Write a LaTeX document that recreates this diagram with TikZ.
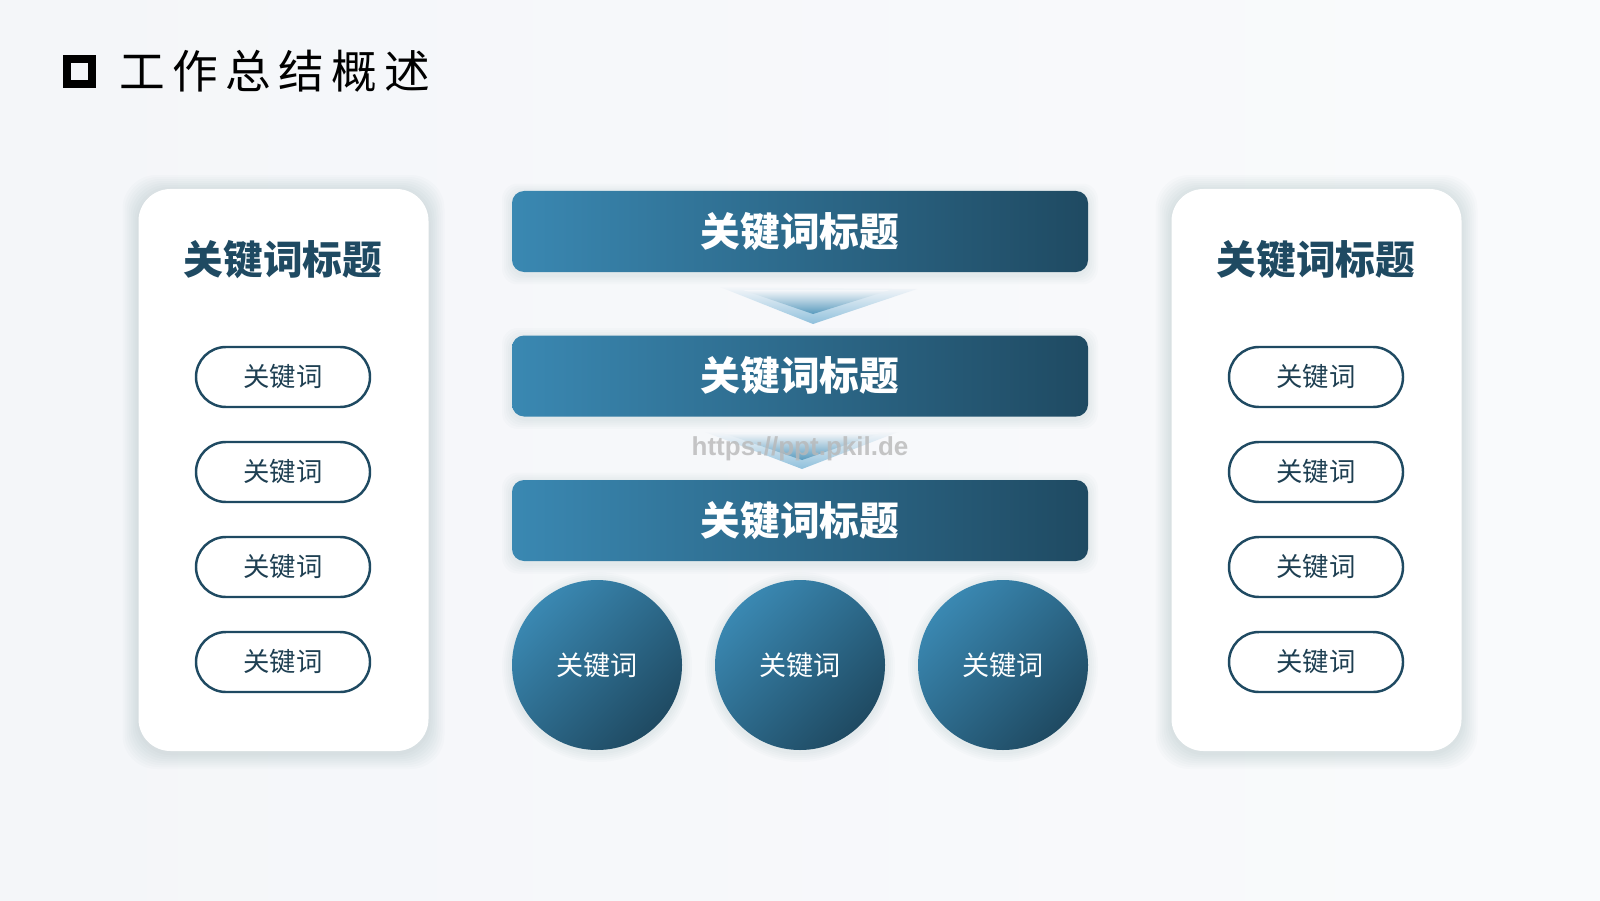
\documentclass[tikz,border=0pt]{standalone}
\usepackage{fontspec}
\setmainfont{Noto Sans CJK SC}
\newfontfamily\urlfont{Liberation Sans}
\definecolor{navy}{HTML}{1F4A62}
\definecolor{steel}{HTML}{3A88B2}
\definecolor{ink}{HTML}{1E3F52}
\definecolor{paper}{HTML}{F4F6F9}
\definecolor{haze}{HTML}{8FC0DC}

\tikzset{
  card/.style={fill=white, rounded corners=0.32cm, minimum width=2.9cm,
    minimum height=5.62cm, inner sep=0pt},
  cardtitle/.style={text=navy, font=\fontsize{11.3}{13}\selectfont\bfseries},
  pill/.style={draw=navy, line width=0.7pt, rounded corners=0.3cm,
    minimum width=1.74cm, minimum height=0.6cm, text=ink,
    font=\fontsize{7.5}{9}\selectfont},
  bar/.style={rounded corners=0.12cm, minimum width=5.76cm,
    minimum height=0.81cm, left color=steel, right color=navy,
    text=white, font=\fontsize{11.3}{13}\selectfont\bfseries},
  ball/.style={circle, minimum size=1.7cm, left color=steel,
    right color=navy, shading angle=45, text=white,
    font=\fontsize{7.7}{9}\selectfont},
  glow/.style={fill=navy, opacity=0.014},
}

\begin{document}
\begin{tikzpicture}
		\shade[left color=paper, right color=paper!50!white] (0,0) rectangle (16,9);
		\useasboundingbox (0,0) rectangle (16,9);
		
		% heading
		\node[draw, line width=0.08cm, minimum size=0.25cm, inner sep=0pt] (box) at (0.795,8.285) {};
		\node[anchor=west, inner sep=0pt, font=\fontsize{13}{15}\selectfont\addfontfeature{LetterSpace=16}] (head) at (1.19,8.29) {工作总结概述};
		
		% soft shadows
		\foreach \cx in {2.835,13.165}
			\foreach \s in {0.02,0.04,...,0.16}
				\fill[glow, rounded corners=0.34cm] (\cx-1.45-\s,1.47-\s) rectangle (\cx+1.45+\s,7.09+\s);
		\foreach \cy in {6.685,5.24,3.795}
			\foreach \s in {0.02,0.04,...,0.10}
				\fill[glow, rounded corners=0.16cm] (5.12-\s,\cy-0.43-\s) rectangle (10.88+\s,\cy+0.38+\s);
		\foreach \cx in {5.97,8.00,10.03}
			\foreach \s in {0.02,0.04,...,0.10}
				\fill[glow] (\cx,2.33) circle (0.85+\s);
		
		% side cards
		\node[card] (Lcard) at (2.835,4.30) {};
		\node[card] (Rcard) at (13.165,4.30) {};
		\node[cardtitle] (Ltitle) at (2.83,6.40) {关键词标题};
		\node[cardtitle] (Rtitle) at (13.16,6.40) {关键词标题};
		\foreach \y [count=\i] in {5.23,4.28,3.33,2.38} {
			\node[pill] (L\i) at (2.83,\y) {关键词};
			\node[pill] (R\i) at (13.16,\y) {关键词};
		}
		
		% chevrons
		\shade[top color=paper, bottom color=haze] (7.20,6.13) -- (9.17,6.11) -- (8.13,5.76) -- cycle;
		\shade[top color=paper, bottom color=steel!85!white] (7.43,6.10) -- (8.90,6.10) -- (8.13,5.86) -- cycle;
		\shade[top color=paper, bottom color=haze] (7.05,4.68) -- (8.98,4.68) -- (8.02,4.31) -- cycle;
		\shade[top color=paper, bottom color=steel!85!white] (7.23,4.67) -- (8.80,4.67) -- (8.02,4.40) -- cycle;
		
		% center column
		\node[bar] (B1) at (8.00,6.685) {关键词标题};
		\node[bar] (B2) at (8.00,5.24) {关键词标题};
		\node[bar] (B3) at (8.00,3.795) {关键词标题};
		\foreach \x [count=\i] in {5.97,8.00,10.03}
			\node[ball] (C\i) at (\x,2.35) {关键词};
		
		\node[text=black!28, opacity=0.8, font=\urlfont\bfseries\fontsize{7.4}{8}\selectfont] (mark) at (8.00,4.51) {https://ppt.pkil.de};
\end{tikzpicture}
\end{document}
